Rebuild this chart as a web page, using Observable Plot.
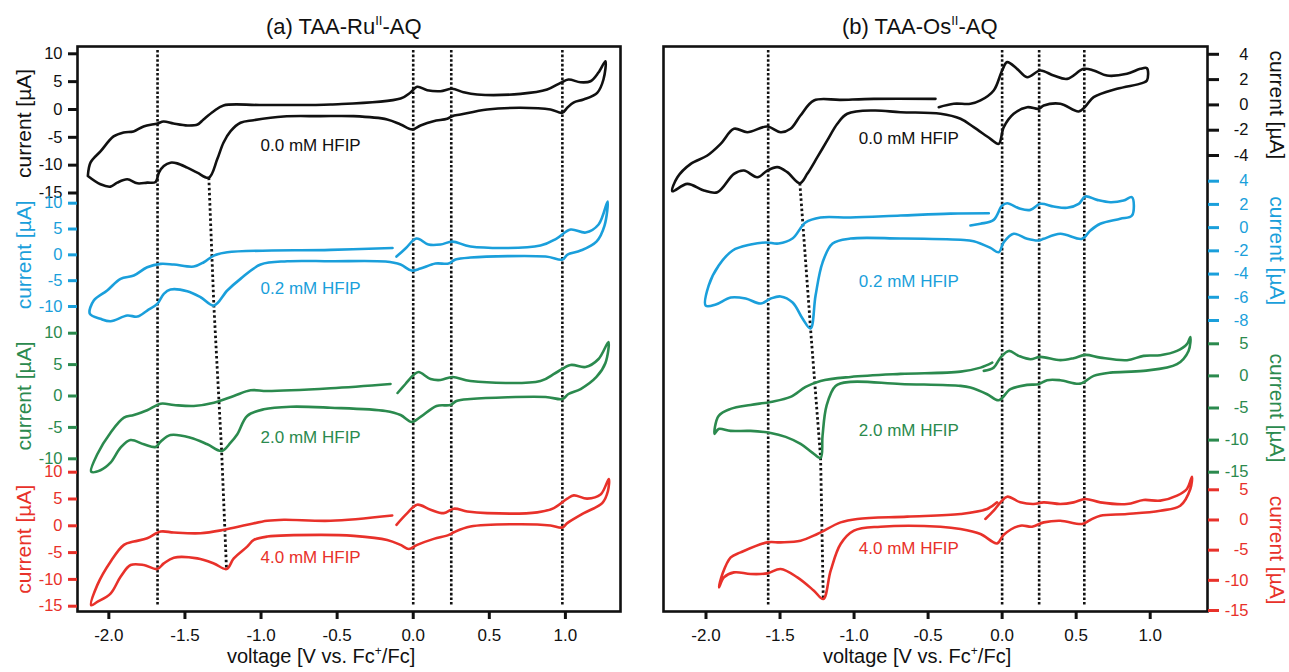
<!DOCTYPE html>
<html><head><meta charset="utf-8">
<script src="https://cdn.jsdelivr.net/npm/d3@7"></script>
<script src="https://cdn.jsdelivr.net/npm/@observablehq/plot@0.6"></script>
<style>
body{margin:0;background:#fff;}
#wrap{position:relative;width:1289px;height:672px;font-family:"Liberation Sans",Arial,sans-serif;overflow:hidden;}
#wrap svg{position:absolute;left:0;top:0;}
.ttl{position:absolute;white-space:nowrap;color:#111;}
.ttl sup{position:relative;vertical-align:0;}
</style></head><body><div id="wrap"></div>
<script>
// ---------- data: voltage [V vs Fc+/Fc], current [µA] ----------
const voltageTicks = [-2.0, -1.5, -1.0, -0.5, 0.0, 0.5, 1.0];
const hfipLabels = ["0.0 mM HFIP", "0.2 mM HFIP", "2.0 mM HFIP", "4.0 mM HFIP"];

// (a) TAA-Ru(II)-AQ
const ru00 = [[-2.138,-11.95],[-2.120,-9.50],[-2.055,-7.53],[-1.969,-4.84],[-1.903,-4.12],[-1.838,-3.94],[-1.772,-3.05],[-1.680,-2.51],[-1.641,-2.15],[-1.575,-2.51],[-1.483,-2.87],[-1.417,-2.69],[-1.378,-1.79],[-1.313,-0.36],[-1.247,0.72],[-1.003,0.81],[-0.543,0.90],[-0.083,1.97],[-0.018,3.05],[0.026,4.07],[0.092,3.46],[0.179,3.28],[0.256,3.71],[0.330,3.10],[0.420,2.69],[0.705,2.81],[0.880,3.58],[0.968,4.78],[1.020,5.38],[1.099,4.89],[1.165,5.07],[1.217,6.63],[1.263,8.66],[1.250,5.38],[1.209,2.99],[1.119,1.79],[1.053,1.25],[1.012,0.30],[0.979,-0.59],[0.902,0.00],[0.705,0.30],[0.486,0.00],[0.311,-0.90],[0.256,-1.20],[0.223,-1.67],[0.133,-2.10],[0.048,-2.87],[-0.007,-3.58],[-0.083,-2.69],[-0.171,-1.79],[-0.392,-1.20],[-0.609,-1.20],[-0.852,-1.25],[-1.049,-1.92],[-1.135,-2.38],[-1.200,-3.89],[-1.247,-5.97],[-1.288,-8.96],[-1.343,-12.24],[-1.419,-11.34],[-1.485,-10.45],[-1.551,-9.68],[-1.595,-9.55],[-1.639,-10.16],[-1.671,-11.34],[-1.693,-13.03],[-1.748,-13.14],[-1.813,-13.26],[-1.879,-12.54],[-1.945,-13.14],[-1.989,-13.85],[-2.055,-13.44],[-2.138,-11.95]];
const ru02 = [[-0.110,-0.33],[-0.051,1.22],[0.022,3.16],[0.100,1.99],[0.179,1.99],[0.258,2.57],[0.376,1.61],[0.836,1.80],[0.942,3.16],[1.034,4.90],[1.133,4.32],[1.218,5.87],[1.277,10.32],[1.257,5.67],[1.204,2.57],[1.100,0.83],[1.014,0.06],[0.981,-0.91],[0.870,-0.33],[0.376,-0.52],[0.278,-0.91],[0.232,-1.68],[0.146,-1.68],[0.048,-2.65],[-0.011,-3.04],[-0.083,-1.88],[-0.182,-1.30],[-0.543,-1.24],[-0.828,-1.24],[-1.003,-1.88],[-1.135,-4.65],[-1.222,-6.91],[-1.310,-9.82],[-1.397,-8.21],[-1.485,-7.05],[-1.595,-6.72],[-1.639,-7.55],[-1.682,-9.49],[-1.748,-10.78],[-1.813,-11.95],[-1.879,-11.75],[-1.989,-12.86],[-2.055,-12.39],[-2.125,-11.42],[-2.099,-8.85],[-2.011,-6.91],[-1.923,-4.65],[-1.836,-4.01],[-1.748,-2.40],[-1.660,-1.74],[-1.573,-1.88],[-1.442,-2.27],[-1.376,-1.43],[-1.310,-0.14],[-1.222,0.50],[-0.543,0.97],[-0.136,1.32]];
const ru20 = [[-0.103,0.48],[-0.051,1.91],[0.002,3.34],[0.035,3.82],[0.114,2.71],[0.179,2.55],[0.258,3.03],[0.376,2.39],[0.836,2.39],[0.935,3.66],[1.034,4.94],[1.132,4.62],[1.218,5.89],[1.283,8.60],[1.263,5.25],[1.204,3.03],[1.100,1.11],[1.020,0.32],[0.981,-0.48],[0.870,-0.16],[0.376,-0.48],[0.284,-0.80],[0.245,-1.43],[0.153,-1.59],[0.048,-3.34],[-0.011,-4.14],[-0.083,-3.03],[-0.182,-2.39],[-0.543,-1.86],[-0.806,-1.70],[-0.982,-2.12],[-1.091,-3.18],[-1.156,-6.10],[-1.200,-7.44],[-1.259,-8.76],[-1.353,-7.69],[-1.463,-6.64],[-1.595,-6.21],[-1.660,-7.28],[-1.693,-8.12],[-1.770,-7.69],[-1.858,-7.01],[-1.923,-8.23],[-1.989,-10.62],[-2.055,-11.83],[-2.116,-12.05],[-2.076,-9.28],[-1.989,-5.84],[-1.901,-3.46],[-1.836,-3.03],[-1.748,-2.28],[-1.660,-1.23],[-1.573,-1.43],[-1.442,-1.59],[-1.310,-1.07],[-1.179,0.00],[-1.068,0.91],[-0.959,0.80],[-0.543,1.23],[-0.149,1.91]];
const ru40 = [[-0.110,0.19],[-0.039,2.36],[0.026,3.94],[0.114,3.00],[0.201,2.36],[0.267,3.19],[0.355,2.68],[0.486,2.36],[0.815,2.50],[0.924,3.30],[1.012,5.07],[1.055,5.68],[1.143,5.07],[1.231,5.82],[1.285,8.74],[1.279,6.44],[1.242,4.24],[1.121,2.36],[1.012,0.49],[0.979,-0.32],[0.902,0.06],[0.705,0.30],[0.376,-0.13],[0.267,-1.20],[0.234,-1.69],[0.135,-2.44],[0.026,-3.56],[-0.029,-4.32],[-0.083,-3.56],[-0.171,-2.63],[-0.390,-1.88],[-0.609,-1.69],[-0.959,-2.01],[-1.047,-2.63],[-1.091,-3.88],[-1.179,-6.08],[-1.227,-8.07],[-1.310,-7.02],[-1.419,-6.08],[-1.573,-5.95],[-1.639,-7.02],[-1.682,-8.07],[-1.770,-7.32],[-1.857,-7.32],[-1.923,-9.51],[-1.989,-12.65],[-2.076,-14.20],[-2.116,-14.82],[-2.076,-11.07],[-1.989,-6.70],[-1.901,-3.56],[-1.836,-2.95],[-1.748,-2.33],[-1.660,-1.07],[-1.573,-1.26],[-1.398,-1.39],[-1.244,-0.75],[-1.091,0.19],[-0.959,0.94],[-0.850,1.13],[-0.543,0.94],[-0.138,1.93]];
const ruMarkers = [-1.68, 0.0, 0.25, 0.98];
const ruShift = [[-1.343,-12.24],[-1.310,-9.82],[-1.259,-8.76],[-1.227,-8.07]];

// (b) TAA-Os(II)-AQ
const os00 = [[-0.428,-0.18],[-0.327,0.09],[-0.214,0.09],[-0.146,0.35],[-0.057,1.14],[0.000,2.72],[0.034,3.38],[0.101,2.85],[0.169,2.19],[0.258,2.72],[0.348,2.32],[0.439,2.06],[0.551,2.85],[0.618,2.72],[0.708,2.32],[0.843,2.46],[0.933,2.85],[0.978,2.90],[0.978,1.93],[0.945,1.72],[0.776,1.27],[0.618,0.61],[0.562,-0.13],[0.517,-0.52],[0.393,0.09],[0.281,-0.05],[0.247,-0.31],[0.169,-0.18],[0.078,-0.70],[0.011,-1.76],[-0.023,-3.08],[-0.079,-2.68],[-0.192,-1.76],[-0.281,-1.10],[-0.416,-0.70],[-0.686,-0.58],[-0.866,-0.44],[-1.046,-0.70],[-1.113,-1.49],[-1.181,-2.81],[-1.248,-4.13],[-1.316,-5.45],[-1.366,-6.19],[-1.451,-5.32],[-1.518,-4.92],[-1.586,-5.19],[-1.653,-5.72],[-1.744,-5.19],[-1.811,-5.45],[-1.923,-6.90],[-2.014,-6.77],[-2.126,-6.24],[-2.227,-6.82],[-2.193,-5.72],[-2.103,-4.66],[-1.991,-4.00],[-1.901,-3.08],[-1.811,-1.89],[-1.721,-2.16],[-1.586,-1.71],[-1.496,-2.16],[-1.429,-1.89],[-1.362,-0.84],[-1.271,0.35],[-1.091,0.40],[-0.866,0.48],[-0.450,0.48]];
const os02 = [[-0.214,0.18],[-0.146,0.33],[-0.057,0.67],[0.000,1.90],[0.034,2.10],[0.123,1.62],[0.191,1.53],[0.258,2.05],[0.348,1.82],[0.439,1.71],[0.517,2.05],[0.562,2.68],[0.641,2.39],[0.731,2.19],[0.820,2.33],[0.877,2.62],[0.877,1.04],[0.798,0.76],[0.663,0.33],[0.596,-0.25],[0.540,-0.96],[0.393,-0.53],[0.281,-0.96],[0.247,-1.11],[0.169,-0.96],[0.078,-0.53],[0.011,-1.26],[-0.023,-2.12],[-0.079,-1.74],[-0.192,-1.17],[-0.281,-1.05],[-0.686,-0.94],[-1.024,-0.94],[-1.145,-1.37],[-1.213,-3.01],[-1.260,-5.85],[-1.294,-8.69],[-1.348,-7.83],[-1.415,-6.45],[-1.496,-5.93],[-1.563,-6.11],[-1.631,-6.54],[-1.732,-6.11],[-1.833,-6.02],[-1.934,-6.62],[-2.002,-6.71],[-1.982,-4.99],[-1.914,-3.26],[-1.820,-1.97],[-1.699,-1.46],[-1.597,-1.28],[-1.510,-1.37],[-1.416,-0.94],[-1.328,0.44],[-1.227,0.87],[-1.024,0.87],[-0.686,1.04],[-0.349,1.21],[-0.090,1.24]];
const os20 = [[-0.124,0.78],[-0.057,1.29],[-0.011,2.85],[0.045,3.89],[0.112,3.12],[0.191,2.60],[0.258,2.96],[0.393,2.45],[0.483,2.76],[0.562,3.27],[0.663,2.85],[0.843,2.45],[0.955,3.12],[1.068,3.22],[1.181,3.89],[1.248,4.94],[1.271,6.07],[1.259,3.89],[1.181,1.82],[0.955,0.78],[0.731,0.51],[0.618,0.00],[0.528,-1.20],[0.393,-0.67],[0.304,-0.67],[0.247,-1.29],[0.169,-1.40],[0.056,-2.07],[-0.023,-3.79],[-0.101,-2.85],[-0.214,-1.82],[-0.281,-1.56],[-0.686,-1.25],[-1.024,-0.93],[-1.125,-1.56],[-1.186,-4.67],[-1.213,-9.35],[-1.226,-12.77],[-1.280,-11.99],[-1.361,-10.59],[-1.462,-9.50],[-1.563,-8.88],[-1.699,-8.57],[-1.834,-8.57],[-1.915,-8.26],[-1.942,-9.03],[-1.915,-6.23],[-1.834,-5.14],[-1.699,-4.52],[-1.563,-4.05],[-1.429,-3.27],[-1.327,-1.71],[-1.226,-0.78],[-1.024,-0.16],[-0.686,0.31],[-0.281,0.67],[-0.146,1.29],[-0.067,2.07]];
const os40 = [[-0.113,0.17],[-0.057,1.54],[-0.011,2.92],[0.034,3.86],[0.123,2.92],[0.213,2.65],[0.281,2.92],[0.393,2.65],[0.483,2.92],[0.562,3.48],[0.663,2.92],[0.843,2.65],[0.955,3.31],[1.068,3.20],[1.181,4.03],[1.248,5.14],[1.282,7.17],[1.271,5.14],[1.203,2.37],[1.068,1.54],[0.843,0.99],[0.663,0.71],[0.595,0.00],[0.540,-0.66],[0.393,-0.12],[0.281,-0.40],[0.202,-1.11],[0.123,-0.94],[0.011,-2.44],[-0.034,-3.88],[-0.146,-2.32],[-0.281,-1.49],[-0.416,-1.11],[-0.821,-1.11],[-1.001,-1.77],[-1.091,-3.98],[-1.158,-8.40],[-1.208,-13.09],[-1.271,-11.72],[-1.383,-9.51],[-1.496,-8.12],[-1.586,-8.85],[-1.699,-8.95],[-1.811,-8.68],[-1.879,-9.51],[-1.912,-11.17],[-1.889,-8.95],[-1.833,-6.20],[-1.766,-5.37],[-1.586,-3.71],[-1.496,-3.71],[-1.361,-3.43],[-1.248,-2.32],[-1.091,-0.40],[-0.978,0.17],[-0.641,0.55],[-0.281,0.99],[-0.101,1.82],[-0.034,2.92]];
const osMarkers = [-1.58, 0.0, 0.25, 0.555];
const osShift = [[-1.366,-6.19],[-1.294,-8.69],[-1.226,-12.77],[-1.208,-13.09]];

// y-axis tick labels for each trace
const ruTicks = [[10,5,0,-5,-10,-15],[10,5,0,-5,-10],[10,5,0,-5,-10],[10,5,0,-5,-10,-15]];
const osTicks = [[4,2,0,-2,-4],[4,2,0,-2,-4,-6,-8],[5,0,-5,-10,-15],[5,0,-5,-10,-15]];

// ---------- layout / style ----------
const W = 1289, H = 672, MT = 46, MB = 61;
const FONT = '"Liberation Sans", Arial, sans-serif';
const COLORS = ["#111111", "#1a9fdb", "#2b8a4e", "#e8312a"];

const panels = [
  { side: "left", mL: 77, mR: 669, xDomain: [-2.206, 1.362], markers: ruMarkers, shift: ruShift,
    traces: [
      {data: ru00, ticks: ruTicks[0], yDomain: [-15, 10], yRange: [192.5, 53.3], lab: [-1.003, -6.47]},
      {data: ru02, ticks: ruTicks[1], yDomain: [-10, 10], yRange: [306, 202.7], lab: [-1.003, -6.58]},
      {data: ru20, ticks: ruTicks[2], yDomain: [-10, 10], yRange: [458.3, 332.7], lab: [-1.003, -6.64]},
      {data: ru40, ticks: ruTicks[3], yDomain: [-15, 10], yRange: [605.7, 471.7], lab: [-1.003, -5.95]}
    ]},
  { side: "right", mL: 663, mR: 82, xDomain: [-2.287, 1.387], markers: osMarkers, shift: osShift,
    traces: [
      {data: os00, ticks: osTicks[0], yDomain: [-4, 4], yRange: [155, 53.8], lab: [-0.968, -2.68]},
      {data: os02, ticks: osTicks[1], yDomain: [-8, 4], yRange: [320, 180.7], lab: [-0.968, -4.64]},
      {data: os20, ticks: osTicks[2], yDomain: [-15, 5], yRange: [471.7, 343.3], lab: [-0.968, -8.57]},
      {data: os40, ticks: osTicks[3], yDomain: [-15, 5], yRange: [610, 489.3], lab: [-0.968, -4.81]}
    ]}
];

const baseStyle = {background: "transparent", fontFamily: FONT, fontSize: "17px", overflow: "visible"};
const wrap = document.getElementById("wrap");

function tracePlot(p, t, k) {
  const pts = t.data.map(([v, i]) => ({v, i}));
  const color = COLORS[k];
  const left = p.side === "left";
  const mid = (d3.max(t.ticks) + d3.min(t.ticks)) / 2;
  return Plot.plot({
    width: W, height: H, marginLeft: p.mL, marginRight: p.mR, marginTop: MT, marginBottom: MB,
    style: baseStyle,
    x: {domain: p.xDomain, axis: null},
    y: {domain: t.yDomain, range: t.yRange, axis: null},
    marks: [
      Plot.axisY({anchor: p.side, ticks: t.ticks, tickFormat: d => String(d),
        tickSize: left ? 9 : 11, tickPadding: left ? 6 : 30, textAnchor: "end",
        stroke: color, fill: color, strokeWidth: 3, label: null, fontSize: 16.5}),
      Plot.line(pts, {x: "v", y: "i", stroke: color, strokeWidth: 2.6, curve: "catmull-rom",
        strokeLinejoin: "round", strokeLinecap: "round"}),
      Plot.text([hfipLabels[k]], {x: () => t.lab[0], y: () => t.lab[1], text: d => d,
        textAnchor: "start", fill: color, fontSize: 17}),
      Plot.text(["current [µA]"], {frameAnchor: p.side, dx: left ? -53 : 69, y: () => mid, text: d => d,
        textAnchor: "middle", lineAnchor: "middle", rotate: left ? -90 : 90, fill: color, fontSize: 21})
    ]
  });
}

function basePlot(p, yScales) {
  const slant = p.shift.map(([v, i], k) => ({v, py: yScales[k](i)}));
  return Plot.plot({
    width: W, height: H, marginLeft: p.mL, marginRight: p.mR, marginTop: MT, marginBottom: MB,
    style: baseStyle,
    x: {domain: p.xDomain},
    y: {type: "identity", axis: null},
    marks: [
      Plot.ruleX(p.markers, {stroke: "#111", strokeWidth: 2.6, strokeDasharray: "2.6,2", insetTop: 4, insetBottom: 5}),
      Plot.line(slant, {x: "v", y: "py", stroke: "#111", strokeWidth: 2.8, strokeDasharray: "2.5,2.6", strokeLinecap: "butt"}),
      Plot.frame({stroke: "#111", strokeWidth: 2.6}),
      Plot.axisX({ticks: voltageTicks, tickFormat: d => d.toFixed(1), tickSize: 8, tickPadding: 9,
        strokeWidth: 3, stroke: "#111", fill: "#111", label: null, fontSize: 17})
    ]
  });
}

for (const p of panels) {
  const plots = p.traces.map((t, k) => tracePlot(p, t, k));
  const yScales = plots.map(pl => {
    const s = pl.scale("y");
    return s.apply ? (v => s.apply(v)) : d3.scaleLinear(s.domain, s.range);
  });
  wrap.appendChild(basePlot(p, yScales));
  plots.forEach(pl => wrap.appendChild(pl));
}

// titles and axis titles (HTML, for superscripts)
function addText(html, left, top, size) {
  const d = document.createElement("div");
  d.className = "ttl";
  d.style.left = left + "px";
  d.style.top = top + "px";
  d.style.fontSize = size + "px";
  d.style.lineHeight = size + "px";
  d.innerHTML = html;
  wrap.appendChild(d);
  return d;
}
const supT = '<sup style="font-size:13px;top:-9px">II</sup>';
const supX = '<sup style="font-size:12px;top:-8px">+</sup>';
addText("(a) TAA-Ru" + supT + "-AQ", 266, 16, 22);
addText("(b) TAA-Os" + supT + "-AQ", 842, 16, 22);
addText("voltage [V vs. Fc" + supX + "/Fc]", 227, 646, 20);
addText("voltage [V vs. Fc" + supX + "/Fc]", 823, 646, 20);
</script></body></html>
